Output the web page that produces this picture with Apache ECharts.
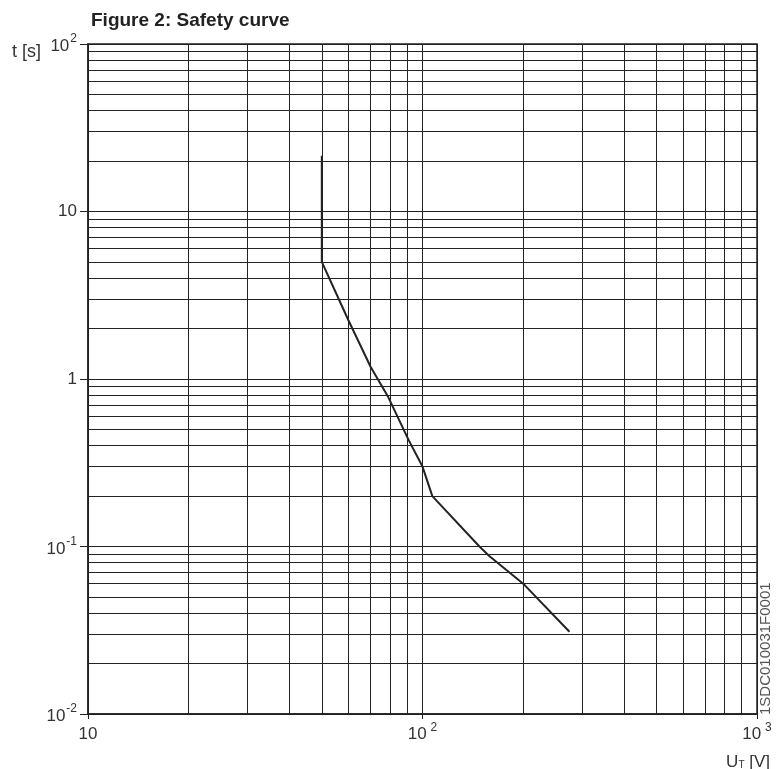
<!DOCTYPE html>
<html>
<head>
<meta charset="utf-8">
<title>Safety curve</title>
<script src="https://cdn.jsdelivr.net/npm/echarts@6/dist/echarts.min.js"></script>
<style>
  html, body { margin: 0; padding: 0; background: #fff; }
  #chart { width: 776px; height: 769px; }
</style>
</head>
<body>
<div id="chart"></div>
<script>
// curve: touch voltage U_T [V] vs. time t [s]
const voltage = [50, 50, 60, 70, 79, 91, 100, 107, 148, 158, 200, 275]
const time = [21.5, 5, 2.25, 1.18, 0.78, 0.43, 0.3, 0.2, 0.1, 0.088, 0.06, 0.031]

// axis ticks + their labels
const xTicks = [10, 100, 1000]
const xTickLabels = ['10', '10{sup|2}', '10{sup|3}']
const yTicks = [0.01, 0.1, 1, 10, 100]
const yTickLabels = ['{h| }{b|10}{sup|-2}', '{h| }{b|10}{sup|-1}', '1', '10', '{h| }{b|10}{sup|2}']

// minor log grid lines (2..9 of every decade)
const xMinorGrid = [20, 30, 40, 50, 60, 70, 80, 90, 200, 300, 400, 500, 600, 700, 800, 900]
const yMinorGrid = [
  0.02, 0.03, 0.04, 0.05, 0.06, 0.07, 0.08, 0.09,
  0.2, 0.3, 0.4, 0.5, 0.6, 0.7, 0.8, 0.9,
  2, 3, 4, 5, 6, 7, 8, 9,
  20, 30, 40, 50, 60, 70, 80, 90
]

const FONT = '"Liberation Sans", Arial, sans-serif'
const INK = '#222'
const TXT = '#333'

function labelFor(ticks, labels) {
  return function (v) {
    const i = ticks.findIndex(t => Math.abs(Math.log10(t) - Math.log10(v)) < 1e-6)
    return i < 0 ? '' : labels[i]
  }
}

const chart = echarts.init(document.getElementById('chart'))

chart.setOption({
  animation: false,
  grid: {
    left: 88,
    right: 19,
    top: 44,
    bottom: 55,
    show: true,
    borderColor: INK,
    borderWidth: 1.5,
    backgroundColor: 'transparent'
  },
  xAxis: {
    type: 'log',
    logBase: 10,
    min: 10,
    max: 1000,
    axisLine: { show: true, onZero: false, lineStyle: { color: INK, width: 1.5 } },
    axisTick: { show: true, length: 5, lineStyle: { color: INK } },
    axisLabel: {
      margin: 8,
      color: TXT,
      fontSize: 17,
      lineHeight: 24,
      fontFamily: FONT,
      formatter: labelFor(xTicks, xTickLabels),
      rich: {
        sup: { fontSize: 12, lineHeight: 12, verticalAlign: 'top', padding: [0, 0, 0, 4], color: TXT, fontFamily: FONT }
      }
    },
    splitLine: { show: true, lineStyle: { color: INK, width: 1 } }
  },
  yAxis: {
    type: 'log',
    logBase: 10,
    min: 0.01,
    max: 100,
    axisLine: { show: true, onZero: false, lineStyle: { color: INK, width: 1.5 } },
    axisTick: { show: true, length: 8, lineStyle: { color: INK } },
    axisLabel: {
      margin: 11,
      color: TXT,
      fontSize: 17,
      lineHeight: 20,
      fontFamily: FONT,
      formatter: labelFor(yTicks, yTickLabels),
      rich: {
        h: { fontSize: 1, lineHeight: 22 },
        b: { fontSize: 17, lineHeight: 16, verticalAlign: 'bottom', color: TXT, fontFamily: FONT },
        sup: { fontSize: 12, lineHeight: 14, verticalAlign: 'top', padding: [0, 0, 0, 1], color: TXT, fontFamily: FONT }
      }
    },
    splitLine: { show: true, lineStyle: { color: INK, width: 1 } }
  },
  graphic: [
    {
      type: 'text', x: 91, y: 21,
      style: { text: 'Figure 2: Safety curve', font: 'bold 19px ' + FONT, fill: INK, verticalAlign: 'middle' }
    },
    {
      type: 'text', x: 12, y: 52,
      style: { text: 't [s]', font: '18px ' + FONT, fill: TXT, verticalAlign: 'middle' }
    },
    {
      type: 'text', x: 770, y: 762,
      style: {
        text: 'U{sub|T} [V]',
        font: '17px ' + FONT,
        fill: TXT,
        align: 'right',
        verticalAlign: 'middle',
        rich: { sub: { fontSize: 10, verticalAlign: 'bottom', lineHeight: 10, fill: TXT } }
      }
    },
    {
      type: 'text', x: 766, y: 715, rotation: Math.PI / 2,
      style: { text: '1SDC010031F0001', font: '15px ' + FONT, fill: '#555', align: 'left', verticalAlign: 'middle' }
    }
  ],
  series: [
    {
      name: 'grid',
      type: 'line',
      data: [],
      z: 1,
      silent: true,
      markLine: {
        silent: true,
        symbol: 'none',
        label: { show: false },
        lineStyle: { color: INK, width: 1, type: 'solid' },
        data: xMinorGrid.map(v => ({ xAxis: v })).concat(yMinorGrid.map(v => ({ yAxis: v })))
      }
    },
    {
      name: 'safety',
      type: 'line',
      z: 5,
      symbol: 'none',
      data: voltage.map((v, i) => [v, time[i]]),
      lineStyle: { color: INK, width: 2 }
    }
  ]
})
</script>
</body>
</html>
